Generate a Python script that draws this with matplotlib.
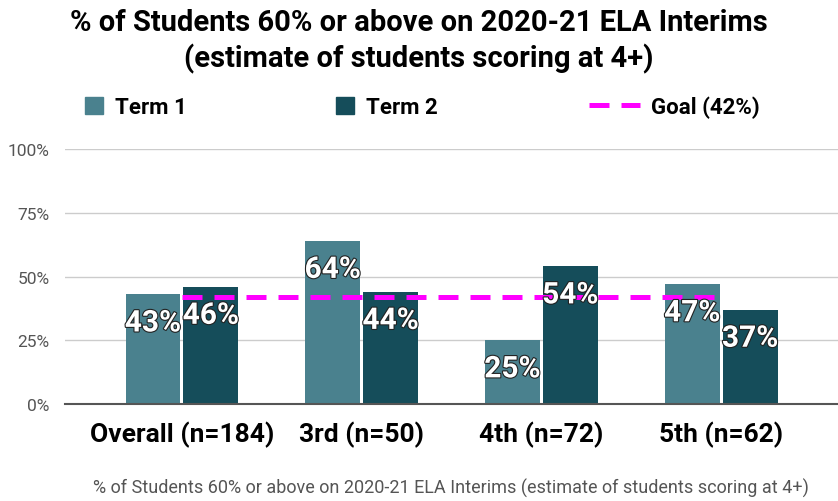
import matplotlib
matplotlib.use("Agg")
import matplotlib.pyplot as plt
import matplotlib.patheffects as pe
from matplotlib.patches import Patch
from matplotlib.lines import Line2D
import numpy as np

plt.rcParams['font.family'] = ['Roboto', 'DejaVu Sans']

# data
categories = ['Overall (n=184)', '3rd (n=50)', '4th (n=72)', '5th (n=62)']
term1 = [43, 64, 25, 47]
term2 = [46, 44, 54, 37]
goal = 42
yticks = [0, 25, 50, 75, 100]

c_term1 = '#4a818e'
c_term2 = '#154d5a'
c_goal = '#ff00ff'

fig = plt.figure(figsize=(8.38, 5.02), dpi=100)
ax = fig.add_axes([0.0776, 0.193, 0.9224, 0.508])

x = np.arange(len(categories))
w = 0.305
off = 0.161
b1 = ax.bar(x - off, term1, w, color=c_term1, zorder=2)
b2 = ax.bar(x + off, term2, w, color=c_term2, zorder=2)

ax.plot([x[0], x[-1]], [goal, goal], color=c_goal, lw=3.6,
        dashes=(4, 2.4), zorder=3)

for bars, vals in ((b1, term1), (b2, term2)):
    for rect, v in zip(bars, vals):
        ax.annotate(f'{v}%', (rect.get_x() + rect.get_width() / 2, v),
                    xytext=(0, -29), textcoords='offset pixels',
                    ha='center', va='center', color='white',
                    fontsize=21.5, fontweight='bold', zorder=4,
                    path_effects=[pe.withStroke(linewidth=1.6, foreground='#222222')])

ax.set_xlim(-0.65, 3.65)
ax.set_ylim(0, 100)
ax.set_yticks(yticks)
ax.set_yticklabels([f'{t}%' for t in yticks], color='#555555', fontsize=12.5)
ax.set_xticks(x)
ax.set_xticklabels(categories, fontsize=19, fontweight='bold', color='black')
ax.tick_params(axis='both', length=0)
ax.tick_params(axis='x', pad=12)
ax.tick_params(axis='y', pad=11)
ax.grid(axis='y', color='#cccccc', lw=1, zorder=0)
for s in ('top', 'right', 'left'):
    ax.spines[s].set_visible(False)
ax.spines['bottom'].set_color('#555555')
ax.spines['bottom'].set_linewidth(1.5)
ax.spines['bottom'].set_zorder(5)

fig.suptitle('% of Students 60% or above on 2020-21 ELA Interims\n(estimate of students scoring at 4+)',
             x=0.5, y=0.982, fontsize=21, fontweight='bold', linespacing=1.3)

leg_kw = dict(frameon=False, prop={'weight': 'bold', 'size': 16},
              loc='center left', borderaxespad=0, borderpad=0)
fig.legend([Patch(color=c_term1)], ['Term 1'], bbox_to_anchor=(0.102, 0.785),
           handlelength=0.8, handleheight=0.78, handletextpad=0.55, **leg_kw)
fig.legend([Patch(color=c_term2)], ['Term 2'], bbox_to_anchor=(0.401, 0.785),
           handlelength=0.8, handleheight=0.78, handletextpad=0.55, **leg_kw)
fig.legend([Line2D([], [], color=c_goal, lw=3.6, dashes=(4, 2.4))], ['Goal (42%)'],
           bbox_to_anchor=(0.703, 0.785), handlelength=2.3, handletextpad=0.5, **leg_kw)

fig.text(0.538, 0.027, '% of Students 60% or above on 2020-21 ELA Interims (estimate of students scoring at 4+)',
         ha='center', va='center', fontsize=13, color='#555555')

fig.savefig('out.png', dpi=100)
